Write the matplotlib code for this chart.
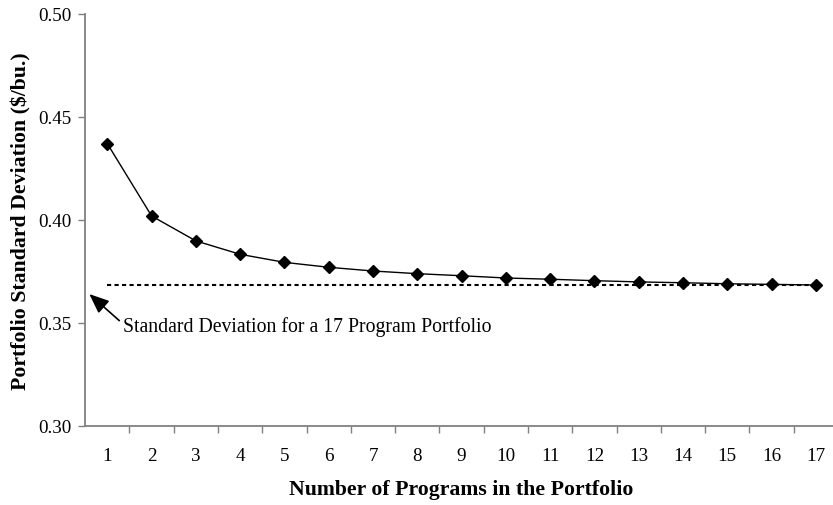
import numpy as np
import matplotlib
matplotlib.use('Agg')
import matplotlib.pyplot as plt

# data
programs = list(range(1, 18))
std_dev = [0.4369, 0.4018, 0.3897, 0.3832, 0.3793, 0.3769, 0.3751, 0.3738,
           0.3728, 0.3717, 0.3711, 0.3704, 0.3698, 0.3694, 0.3689, 0.3686, 0.3683]
y_ticks = [0.30, 0.35, 0.40, 0.45, 0.50]
note = 'Standard Deviation for a 17 Program Portfolio'

plt.rcParams['font.family'] = ['Liberation Serif', 'DejaVu Serif']

fig = plt.figure(figsize=(8.33, 5.06), dpi=100)
ax = fig.add_axes([85.2/833, 79.3/506, 752.8/833, 412/506])

ax.plot(programs, std_dev, color='black', lw=1.0, marker='D', ms=6.5,
        mfc='black', mec='black', zorder=3)
# 17 program level as dotted reference
ax.plot([programs[0], programs[-1]], [std_dev[-1], std_dev[-1]], color='black',
        lw=1.5, linestyle=(0, (2, 1.6)), zorder=2)

ax.text(1.347, 0.3485, note, fontsize=14.2, va='center', ha='left')
ax.annotate('', xy=(0.593, 0.3639), xytext=(1.27, 0.3510),
            arrowprops=dict(arrowstyle='-|>,head_length=1.2,head_width=0.5',
                            mutation_scale=10, color='black', lw=1.2,
                            shrinkA=0, shrinkB=0))

ax.set_xlim(0.5, 17.5)
ax.set_ylim(0.30, 0.50)
ax.set_yticks(y_ticks)
ax.set_yticklabels(['%.2f' % v for v in y_ticks])
ax.set_xticks(np.arange(1.5, 17.5, 1.0))
ax.set_xticklabels([])
ax.set_xticks(programs, minor=True)
ax.set_xticklabels([str(p) for p in programs], minor=True)
ax.tick_params(axis='x', which='minor', length=0, pad=15, labelsize=13.7)
ax.tick_params(axis='x', which='major', length=5, width=1, color='#808080', direction='out')
ax.tick_params(axis='y', length=5, width=1, color='#808080', direction='out', labelsize=13.7, pad=5)

for s in ['top', 'right']:
    ax.spines[s].set_visible(False)
for s in ['left', 'bottom']:
    ax.spines[s].set_color('#808080')
    ax.spines[s].set_linewidth(1.3)

ax.set_xlabel('Number of Programs in the Portfolio', fontsize=15.7, fontweight='bold', labelpad=11)
ax.set_ylabel('Portfolio Standard Deviation ($/bu.)', fontsize=15.7, fontweight='bold', labelpad=5)

fig.savefig('out.png', dpi=100)
